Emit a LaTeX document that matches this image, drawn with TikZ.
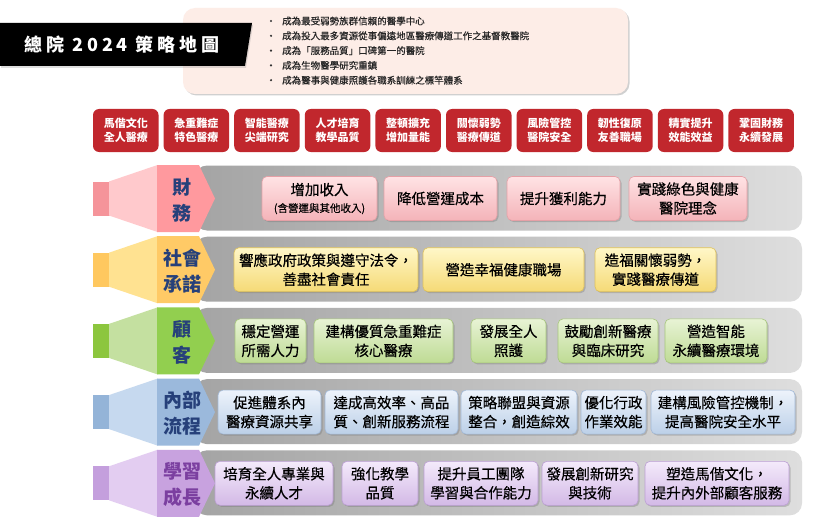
\documentclass[tikz,border=0pt]{standalone}
\usepackage{fontspec}
\setmainfont{Noto Sans CJK TC}
\usetikzlibrary{shadows}
\definecolor{peach}{HTML}{FDEDE7}
\definecolor{redbox}{HTML}{C1272D}
\definecolor{navy}{HTML}{26407A}
\definecolor{purp}{HTML}{7B3FA0}
\definecolor{bandL}{HTML}{A4A4A4}
\definecolor{bandR}{HTML}{DEDEDE}
% left shapes: A rect, B trapezoid, C pentagon
\definecolor{rowA1}{HTML}{F5949A}\definecolor{rowB1}{HTML}{FFC9CC}\definecolor{rowC1}{HTML}{FF999E}
\definecolor{rowA2}{HTML}{FFC85F}\definecolor{rowB2}{HTML}{FFE291}\definecolor{rowC2}{HTML}{FFCA66}
\definecolor{rowA3}{HTML}{8CC63E}\definecolor{rowB3}{HTML}{C4E0A0}\definecolor{rowC3}{HTML}{92CF4F}
\definecolor{rowA4}{HTML}{94B4D8}\definecolor{rowB4}{HTML}{C6D9EF}\definecolor{rowC4}{HTML}{9BB9DC}
\definecolor{rowA5}{HTML}{C49FDD}\definecolor{rowB5}{HTML}{E3CDF1}\definecolor{rowC5}{HTML}{C8A2DF}
% inner boxes
\definecolor{ibT1}{HTML}{FFE3E5}\definecolor{ibB1}{HTML}{F4B3B8}\definecolor{ibD1}{HTML}{E5A0A6}
\definecolor{ibT2}{HTML}{FFF7C8}\definecolor{ibB2}{HTML}{F5DA76}\definecolor{ibD2}{HTML}{DFC15A}
\definecolor{ibT3}{HTML}{E8F3D5}\definecolor{ibB3}{HTML}{BEDB94}\definecolor{ibD3}{HTML}{A6C67B}
\definecolor{ibT4}{HTML}{EDF3FB}\definecolor{ibB4}{HTML}{BCD0E8}\definecolor{ibD4}{HTML}{A1B8D6}
\definecolor{ibT5}{HTML}{F4EAFB}\definecolor{ibB5}{HTML}{D3B9E6}\definecolor{ibD5}{HTML}{BC9FD4}
\tikzset{
  softshadow/.style={drop shadow={shadow xshift=1.5pt,shadow yshift=-1.5pt,opacity=.3,fill=black!60}},
  titletext/.style={text=white,font=\fontsize{18}{20}\selectfont\bfseries\addfontfeatures{LetterSpace=22},inner sep=0},
  bullettext/.style={text=black!85,font=\fontsize{9.5}{11}\selectfont\addfontfeatures{FakeBold=0.3},inner sep=0,anchor=west},
  redtile/.style={fill=redbox,rounded corners=6pt,minimum width=65.5pt,minimum height=43pt,inner sep=0,
    text=white,align=center,font=\fontsize{11}{14}\selectfont\bfseries},
  labeltext/.style={font=\fontsize{19}{26}\selectfont\bfseries,align=center,inner sep=0},
  ibox/.style={rounded corners=5pt,minimum height=44pt,inner sep=0,align=center,
    font=\fontsize{14.5}{19}\selectfont\addfontfeatures{FakeBold=0.4},text=black,line width=.6pt,softshadow},
  ib1/.style={top color=ibT1,bottom color=ibB1,draw=ibD1},
  ib2/.style={top color=ibT2,bottom color=ibB2,draw=ibD2},
  ib3/.style={top color=ibT3,bottom color=ibB3,draw=ibD3},
  ib4/.style={top color=ibT4,bottom color=ibB4,draw=ibD4},
  ib5/.style={top color=ibT5,bottom color=ibB5,draw=ibD5},
}
\begin{document}
\begin{tikzpicture}[x=1pt,y=-1pt]
\useasboundingbox (0,0) rectangle (840,524);
\fill[white] (0,0) rectangle (840,524);
% vision box
\path[fill=peach,rounded corners=12pt,softshadow] (183,8) rectangle (628,94);
\path[fill=black,drop shadow={shadow xshift=1pt,shadow yshift=-2pt,opacity=.25}] (0,23) -- (252,23) -- (245,66) -- (0,66) -- cycle;
\node[titletext] (title) at (122,45) {總院 2024 策略地圖};
\foreach \t [count=\i] in {成為最受弱勢族群信賴的醫學中心,成為投入最多資源從事偏遠地區醫療傳道工作之基督教醫院,成為「服務品質」口碑第一的醫院,成為生物醫學研究重鎮,成為醫事與健康照護各職系訓練之標竿體系}{
  \fill[black!80] (271,6.2+14.8*\i) circle[radius=1.2pt];
  \node[bullettext] (v\i) at (282,6.2+14.8*\i) {\t};
}
% strategic themes
\foreach \t [count=\i from 0] in {{馬偕文化\\全人醫療},{急重難症\\特色醫療},{智能醫療\\尖端研究},{人才培育\\教學品質},{整頓擴充\\增加量能},{關懷弱勢\\醫療傳道},{風險管控\\醫院安全},{韌性復原\\友善職場},{精實提升\\效能效益},{鞏固財務\\永續發展}}{
  \node[redtile] (red\i) at (125.75+70.6*\i,130.5) {\t};
}
% perspective rows
\foreach \r/\lab/\tc in {1/{財\\務}/navy,2/{社會\\承諾}/navy,3/{顧\\客}/navy,4/{內部\\流程}/navy,5/{學習\\成長}/purp}{
  \pgfmathsetmacro{\yc}{198.5+71.2*(\r-1)}
  \path[left color=bandL,right color=bandR,rounded corners=12pt] (195,\yc-33) rectangle (802,\yc+32);
  \fill[rowA\r] (93,\yc-17) rectangle (109.5,\yc+17);
  \fill[rowB\r] (109,\yc-17) -- (157.5,\yc-33.5) -- (157.5,\yc+33.5) -- (109,\yc+17) -- cycle;
  \fill[rowC\r] (157,\yc-33.5) -- (199,\yc-33.5) -- (215,\yc) -- (199,\yc+33.5) -- (157,\yc+33.5) -- cycle;
  \node[labeltext,text=\tc] (lab\r) at (182,\yc+1.5) {\lab};
}
% objective boxes
\foreach \r/\l/\rr/\t [count=\k] in {
  1/384/497/{降低營運成本},1/507/620/{提升獲利能力},1/629/747/{實踐綠色與健康\\醫院理念},
  2/234/418/{響應政府政策與遵守法令，\\善盡社會責任},2/423/584/{營造幸福健康職場},2/595/716/{造福關懷弱勢，\\實踐醫療傳道},
  3/235/306/{穩定營運\\所需人力},3/314/453/{建構優質急重難症\\核心醫療},3/471/546/{發展全人\\照護},3/558/658/{鼓勵創新醫療\\與臨床研究},3/665/767/{營造智能\\永續醫療環境},
  4/218/321/{促進體系內\\醫療資源共享},4/325/458/{達成高效率、高品\\質、創新服務流程},4/461/577/{策略聯盟與資源\\整合，創造綜效},4/581/646/{優化行政\\作業效能},4/651/795/{建構風險管控機制，\\提高醫院安全水平},
  5/215/333/{培育全人專業與\\永續人才},5/342/418/{強化教學\\品質},5/424/538/{提升員工團隊\\學習與合作能力},5/542/638/{發展創新研究\\與技術},5/645/789/{塑造馬偕文化，\\提升內外部顧客服務}}{
  \pgfmathsetmacro{\yc}{198.5+71.2*(\r-1)}
  \pgfmathsetmacro{\xc}{(\l+\rr)/2}
  \pgfmathsetmacro{\w}{\rr-\l}
  \node[ibox,ib\r,minimum width=\w pt] (bx\k) at (\xc,\yc) {\t};
}
\node[ibox,ib1,minimum width=115pt] (bx0) at (319.5,198.5) {增加收入\\[-2pt]{\fontsize{10.5}{13}\selectfont(含營運與其他收入)}};
\end{tikzpicture}
\end{document}
